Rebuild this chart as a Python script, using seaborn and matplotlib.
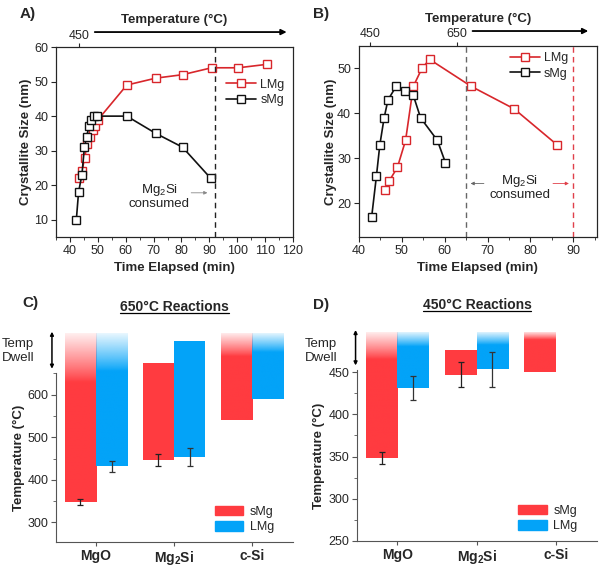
import numpy as np
import matplotlib
matplotlib.use('Agg')
import matplotlib.pyplot as plt
import matplotlib.colors as mcolors
import seaborn as sns
from matplotlib.patches import Patch
from matplotlib.lines import Line2D

# ---------------- data ----------------
# Panel A (450 C reactions, crystallite size vs time)
a_lmg_time = [43.4, 44.3, 45.3, 46.2, 47.2, 48.1, 49.1, 50.1, 60.4, 70.8, 80.4, 90.8, 100.4, 110.7]
a_lmg_size = [22, 24, 28, 32, 34, 36, 37, 39, 49, 51, 52, 54, 54, 55]
a_smg_time = [42.3, 43.1, 44.3, 45.2, 46.0, 46.8, 47.7, 48.6, 49.8, 60.4, 70.8, 80.4, 90.5]
a_smg_size = [10, 18, 23, 31, 34, 37, 39, 40, 40, 40, 35, 31, 22]
a_consumed = [92]
a_temp_ticks = [43.2]
a_temp_labels = ['450']

# Panel B (650 C reactions)
b_lmg_time = [46.1, 47.1, 49.0, 50.9, 52.7, 54.7, 56.5, 66.2, 76.2, 86.2]
b_lmg_size = [23, 25, 28, 34, 46, 50, 52, 46, 41, 33]
b_smg_time = [43.0, 44.1, 44.9, 45.9, 46.8, 48.7, 50.7, 52.7, 54.4, 58.3, 60.2]
b_smg_size = [17, 26, 33, 39, 43, 46, 45, 44, 39, 34, 29]
b_consumed = [65, 90]
b_temp_ticks = [42.7, 62.8]
b_temp_labels = ['450', '650']

# Panels C / D: onset (low) and end (high) temperatures of phases
phases = ['MgO', 'Mg$_2$Si', 'c-Si']
c_smg_low = [349, 446.5, 541]
c_smg_high = [746, 674, 746]
c_lmg_low = [431.5, 453, 590.5]
c_lmg_high = [746, 725, 746]
c_smg_err = [7, 14.5, np.nan]
c_lmg_err = [14, 21, np.nan]

d_smg_low = [348, 447, 450]
d_smg_high = [498, 476, 498]
d_lmg_low = [431, 453.5, np.nan]
d_lmg_high = [498, 498, np.nan]
d_smg_err = [7, 14.5, np.nan]
d_lmg_err = [14.5, 21, np.nan]

# style-only values (where the fade of dwell bars begins)
c_smg_fade = [630, None, 690]
c_lmg_fade = [655, None, 700]
d_smg_fade = [465, None, 488]
d_lmg_fade = [480, 482, None]

# ---------------- style ----------------
sns.set_style('ticks')
plt.rcParams['font.family'] = ['Liberation Sans', 'DejaVu Sans']
plt.rcParams['font.size'] = 9
plt.rcParams['mathtext.fontset'] = 'custom'
plt.rcParams['mathtext.rm'] = 'Liberation Sans'
plt.rcParams['mathtext.bf'] = 'Liberation Sans:bold'
plt.rcParams['mathtext.default'] = 'regular'
plt.rcParams['axes.linewidth'] = 0.8
plt.rcParams['xtick.major.width'] = 0.8
plt.rcParams['ytick.major.width'] = 0.8

RED_L = '#D8262B'
BLACK = '#111111'
RED = '#FF3B40'
BLUE = '#03A3F8'

fig = plt.figure(figsize=(6.0, 5.67), dpi=100)

def line_panel(rect, lmg_t, lmg_s, smg_t, smg_s, xlim, ylim, xticks, yticks, xminor, ylab_x):
    ax = fig.add_axes(rect)
    sns.lineplot(x=lmg_t, y=lmg_s, ax=ax, color=RED_L, marker='s', markersize=5.5,
                 markerfacecolor='white', markeredgecolor=RED_L, markeredgewidth=1.0,
                 lw=1.2, sort=False, estimator=None)
    sns.lineplot(x=smg_t, y=smg_s, ax=ax, color=BLACK, marker='s', markersize=5.5,
                 markerfacecolor='white', markeredgecolor=BLACK, markeredgewidth=1.0,
                 lw=1.2, sort=False, estimator=None)
    ax.set_xlim(*xlim)
    ax.set_ylim(*ylim)
    ax.set_xticks(xticks)
    ax.set_xticks(xminor, minor=True)
    ax.set_yticks(yticks)
    ax.tick_params(axis='both', which='major', length=3.5, labelsize=9, direction='out', pad=2)
    ax.tick_params(axis='both', which='minor', length=2, direction='out')
    for s in ax.spines.values():
        s.set_visible(True)
        s.set_color('#222222')
        s.set_linewidth(0.8)
    ax.set_xlabel('Time Elapsed (min)', fontsize=9.5, fontweight='bold', labelpad=4)
    ax.set_ylabel('Crystallite Size (nm)', fontsize=9.5, fontweight='bold')
    ax.yaxis.set_label_coords(ylab_x, 0.5)
    return ax

# ---- Panel A ----
axA = line_panel([0.0933, 0.582, 0.395, 0.335], a_lmg_time, a_lmg_size, a_smg_time, a_smg_size,
                 (35, 120), (5, 60), np.arange(40, 121, 10), [10, 20, 30, 40, 50, 60],
                 np.arange(35, 121, 5), -0.10)
axA.axvline(a_consumed[0], color='#222222', ls=(0, (4, 3)), lw=1.0)
axA.text(72, 17.0, 'Mg$_2$Si\nconsumed', ha='center', va='center', fontsize=9.5,
         linespacing=1.0, color='#222222')
axA.annotate('', xy=(90.3, 17.8), xytext=(82.5, 17.8),
             arrowprops=dict(arrowstyle='-|>', color='#888888', lw=0.6, mutation_scale=5))
handles = [Line2D([], [], color=RED_L, marker='s', markerfacecolor='white', markersize=5.5, lw=1.2),
           Line2D([], [], color=BLACK, marker='s', markerfacecolor='white', markersize=5.5, lw=1.2)]
axA.legend(handles, ['LMg', 'sMg'], loc='upper right', bbox_to_anchor=(0.985, 0.86),
           frameon=False, fontsize=9, handlelength=2.4, handletextpad=0.3,
           labelspacing=0.3, borderaxespad=0)
topA = axA.twiny()
topA.set_xlim(axA.get_xlim())
topA.set_xticks(a_temp_ticks)
topA.set_xticklabels(a_temp_labels)
topA.tick_params(axis='x', length=3, labelsize=9, pad=1)
topA.set_xlabel('')
axA.annotate('', xy=(0.985, 1.079), xytext=(0.152, 1.079), xycoords='axes fraction',
             arrowprops=dict(arrowstyle='-|>', color='black', lw=1.3, mutation_scale=8))
axA.text(0.5, 1.142, 'Temperature (°C)', transform=axA.transAxes, ha='center', va='center',
         fontsize=9.5, fontweight='bold')
fig.text(0.033, 0.975, 'A)', fontsize=11, fontweight='bold', ha='left', va='center')

# ---- Panel B ----
axB = line_panel([0.598, 0.582, 0.397, 0.337], b_lmg_time, b_lmg_size, b_smg_time, b_smg_size,
                 (40, 95.5), (12.5, 55), np.arange(40, 91, 10), [20, 30, 40, 50],
                 np.arange(40, 96, 5), -0.092)
axB.axvline(b_consumed[0], color='#666666', ls=(0, (4, 3)), lw=1.0)
axB.axvline(b_consumed[1], color='#E0404A', ls=(0, (4, 3)), lw=1.0)
axB.text(77.5, 23.6, 'Mg$_2$Si\nconsumed', ha='center', va='center', fontsize=9.5,
         linespacing=1.0, color='#222222')
axB.annotate('', xy=(65.4, 24.4), xytext=(69.8, 24.4),
             arrowprops=dict(arrowstyle='-|>', color='#666666', lw=0.6, mutation_scale=5))
axB.annotate('', xy=(89.6, 24.4), xytext=(84.6, 24.4),
             arrowprops=dict(arrowstyle='-|>', color='#E0404A', lw=0.6, mutation_scale=5))
axB.legend(handles, ['LMg', 'sMg'], loc='upper right', bbox_to_anchor=(0.9, 0.995),
           frameon=False, fontsize=9, handlelength=2.4, handletextpad=0.3,
           labelspacing=0.3, borderaxespad=0)
topB = axB.twiny()
topB.set_xlim(axB.get_xlim())
topB.set_xticks(b_temp_ticks)
topB.set_xticklabels(b_temp_labels)
topB.tick_params(axis='x', length=3, labelsize=9, pad=1)
axB.annotate('', xy=(0.975, 1.078), xytext=(0.466, 1.078), xycoords='axes fraction',
             arrowprops=dict(arrowstyle='-|>', color='black', lw=1.3, mutation_scale=8))
axB.text(0.5, 1.142, 'Temperature (°C)', transform=axB.transAxes, ha='center', va='center',
         fontsize=9.5, fontweight='bold')
fig.text(0.522, 0.975, 'B)', fontsize=11, fontweight='bold', ha='left', va='center')


# ---------------- bar panels ----------------
def draw_bar(ax, x, low, high, color, fade_from, width=0.4):
    if np.isnan(low):
        return
    bar = ax.bar(x, high - low, bottom=low, width=width, color=color, linewidth=0, zorder=2)[0]
    if fade_from is not None:
        rgb = mcolors.to_rgb(color)
        n = 300
        ys = np.linspace(low, high, n)
        t = np.clip((ys - fade_from) / (high - fade_from), 0, 1)
        alpha = 1 - 0.93 * t ** 0.9
        img = np.zeros((n, 1, 4))
        img[..., :3] = rgb
        img[:, 0, 3] = alpha
        bar.set_facecolor('none')
        im = ax.imshow(img, extent=[x - width / 2, x + width / 2, low, high], origin='lower',
                       aspect='auto', interpolation='bilinear', zorder=2)
        im.set_clip_path(bar)


def bar_panel(rect, smg_low, smg_high, lmg_low, lmg_high, smg_err, lmg_err,
              smg_fade, lmg_fade, ylim, spine_top, yticks, yminor, title,
              arrow_lo, arrow_x, text_y, text_x, ylab_x):
    ax = fig.add_axes(rect)
    xs = np.arange(len(phases))
    for i in xs:
        draw_bar(ax, i - 0.2, smg_low[i], smg_high[i], RED, smg_fade[i])
        draw_bar(ax, i + 0.2, lmg_low[i], lmg_high[i], BLUE, lmg_fade[i])
    ax.errorbar(xs - 0.2, smg_low, yerr=smg_err, fmt='none', ecolor='#222222',
                elinewidth=0.9, capsize=2, capthick=0.9, zorder=3)
    ax.errorbar(xs + 0.2, lmg_low, yerr=lmg_err, fmt='none', ecolor='#333333',
                elinewidth=0.9, capsize=2, capthick=0.9, zorder=3)
    ax.set_xlim(-0.51, 2.52)
    ax.set_ylim(*ylim)
    ax.set_xticks(xs)
    ax.set_xticklabels(phases, fontsize=10, fontweight='bold')
    ax.set_yticks(yticks)
    ax.set_yticks(yminor, minor=True)
    ax.tick_params(axis='x', length=3, pad=2, color='#555555')
    ax.tick_params(axis='y', which='major', length=3.5, labelsize=9, pad=2, color='#555555')
    ax.tick_params(axis='y', which='minor', length=2, color='#555555')
    ax.spines['top'].set_visible(False)
    ax.spines['right'].set_visible(False)
    ax.spines['left'].set_bounds(ylim[0], spine_top)
    ax.spines['left'].set_color('#555555')
    ax.spines['bottom'].set_color('#555555')
    ax.set_ylabel('Temperature (°C)', fontsize=9.5, fontweight='bold')
    ax.yaxis.set_label_coords(ylab_x, (0.5 * (ylim[0] + spine_top) - ylim[0]) / (ylim[1] - ylim[0]))
    ax.set_title(title, fontsize=10, fontweight='bold', pad=0, y=1.1)
    tr = ax.get_yaxis_transform()
    ax.annotate('', xy=(arrow_x, ylim[1]), xytext=(arrow_x, arrow_lo),
                xycoords=tr, textcoords=tr,
                arrowprops=dict(arrowstyle='<|-|>', color='black', lw=1.1, mutation_scale=5,
                                shrinkA=0, shrinkB=0))
    ax.text(text_x, text_y, 'Temp\nDwell', transform=tr, ha='left', va='center',
            fontsize=9.5, linespacing=1.2)
    leg = [Patch(color=RED, label='sMg'), Patch(color=BLUE, label='LMg')]
    ax.legend(handles=leg, loc='lower right', bbox_to_anchor=(0.94, 0.018), frameon=False,
              fontsize=9, handlelength=2.3, handleheight=0.8, handletextpad=0.5,
              labelspacing=0.25, borderaxespad=0)
    return ax

axC = bar_panel([0.0933, 0.044, 0.395, 0.371], c_smg_low, c_smg_high, c_lmg_low, c_lmg_high,
                c_smg_err, c_lmg_err, c_smg_fade, c_lmg_fade, (254, 748), 650,
                [300, 400, 500, 600], [350, 450, 550, 650], '650°C Reactions',
                661, -0.017, 702, -0.228, -0.13)
axD = bar_panel([0.595, 0.046, 0.40, 0.372], d_smg_low, d_smg_high, d_lmg_low, d_lmg_high,
                d_smg_err, d_lmg_err, d_smg_fade, d_lmg_fade, (250, 500), 452,
                [250, 300, 350, 400, 450], [275, 325, 375, 425], '450°C Reactions',
                458, -0.006, 475, -0.217, -0.133)

fig.text(0.037, 0.466, 'C)', fontsize=11, fontweight='bold', ha='left', va='center')
fig.text(0.522, 0.462, 'D)', fontsize=11, fontweight='bold', ha='left', va='center')

# underline titles
fig.canvas.draw()
for ax in (axC, axD):
    t = ax.title
    bb = t.get_window_extent(renderer=fig.canvas.get_renderer())
    inv = fig.transFigure.inverted()
    (x0, y0), (x1, y1) = inv.transform([(bb.x0, bb.y0), (bb.x1, bb.y1)])
    fig.add_artist(Line2D([x0, x1], [y0 + 0.002, y0 + 0.002], color='black', lw=0.9,
                          transform=fig.transFigure))

fig.savefig('out.png', dpi=100)
